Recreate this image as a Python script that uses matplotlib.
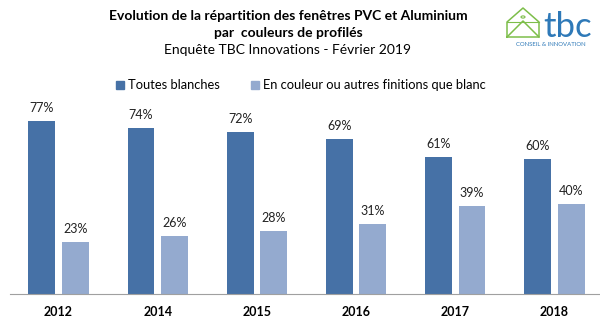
import matplotlib
matplotlib.use("Agg")
import matplotlib.pyplot as plt
import numpy as np
from matplotlib.patches import Rectangle, Circle

years = ["2012", "2014", "2015", "2016", "2017", "2018"]
blanches = [77, 74, 72, 69, 61, 60]
couleur = [23, 26, 28, 31, 39, 40]
series_names = ["Toutes blanches", "En couleur ou autres finitions que blanc"]
title1 = "Evolution de la répartition des fenêtres PVC et Aluminium"
title2 = "par  couleurs de profilés"
title3 = "Enquête TBC Innovations - Février 2019"

c_dark = "#4671A6"
c_light = "#94AACF"
FONT = ["Lato", "DejaVu Sans"]

fig = plt.figure(figsize=(6, 3.24), dpi=100)
W, H = 600, 324
ax = fig.add_axes([10 / W, 30 / H, 590 / W, 225 / H])
x = np.arange(len(years))
bw = 0.27
off = 0.168
b1 = ax.bar(x - off, blanches, bw, color=c_dark)
b2 = ax.bar(x + off, couleur, bw, color=c_light)
for bars, vals in ((b1, blanches), (b2, couleur)):
    for r, v in zip(bars, vals):
        ax.annotate(f"{v}%", (r.get_x() + r.get_width() / 2, v), xytext=(0, 5),
                    textcoords="offset points", ha="center", va="bottom",
                    fontsize=9, family=FONT, color="#222222")
ax.set_xlim(-0.489, 5.459)
ax.set_ylim(0, 100)
ax.set_xticks(x)
ax.set_xticklabels(years, fontsize=9, fontweight="bold", family=FONT)
ax.tick_params(axis="x", length=0, pad=9)
ax.set_yticks([])
for s in ("top", "right", "left"):
    ax.spines[s].set_visible(False)
ax.spines["bottom"].set_color("#A0A0A0")

cx = 288 / W
fig.text(cx, 1 - 16 / H, title1, ha="center", va="center", fontsize=10, fontweight="bold", family=FONT)
fig.text(cx, 1 - 33 / H, title2, ha="center", va="center", fontsize=10, fontweight="bold", family=FONT)
fig.text(cx, 1 - 50 / H, title3, ha="center", va="center", fontsize=10, family=FONT)

# legend
leg_y = 1 - 85 / H
for px, col, name in ((116, c_dark, series_names[0]), (251, c_light, series_names[1])):
    fig.patches.append(Rectangle((px / W, leg_y - 4 / H), 8 / W, 8 / H, transform=fig.transFigure,
                                 color=col, figure=fig))
    fig.text((px + 12) / W, leg_y, name, ha="left", va="center", fontsize=9.3, family=FONT)

# logo
green = "#7DBE4A"
blue = "#2E79B8"
def fx(v):
    return v / W
def fy(v):
    return 1 - v / H
hx = [507, 507, 523, 539, 539, 507]
hy = [37, 22, 8, 22, 37, 37]
fig.lines.append(plt.Line2D([fx(v) for v in hx], [fy(v) for v in hy], transform=fig.transFigure,
                            color=green, lw=1.1))
fig.lines.append(plt.Line2D([fx(507), fx(523), fx(539)], [fy(37), fy(21), fy(37)],
                            transform=fig.transFigure, color=green, lw=1.1))
fig.lines.append(plt.Line2D([fx(507), fx(539)], [fy(22), fy(22)],
                            transform=fig.transFigure, color=green, lw=0.8))
fig.patches.append(Circle((fx(523), fy(17)), 2 / W, transform=fig.transFigure, fill=False,
                          ec=green, lw=0.8, figure=fig))
fig.text(fx(568), fy(37), "tbc", ha="center", va="baseline", fontsize=25, color=blue, family=FONT)
fig.text(fx(551), fy(44), "CONSEIL & INNOVATION", ha="center", va="center", fontsize=4.3,
         color=blue, family=FONT)

fig.savefig("out.png", dpi=100)
